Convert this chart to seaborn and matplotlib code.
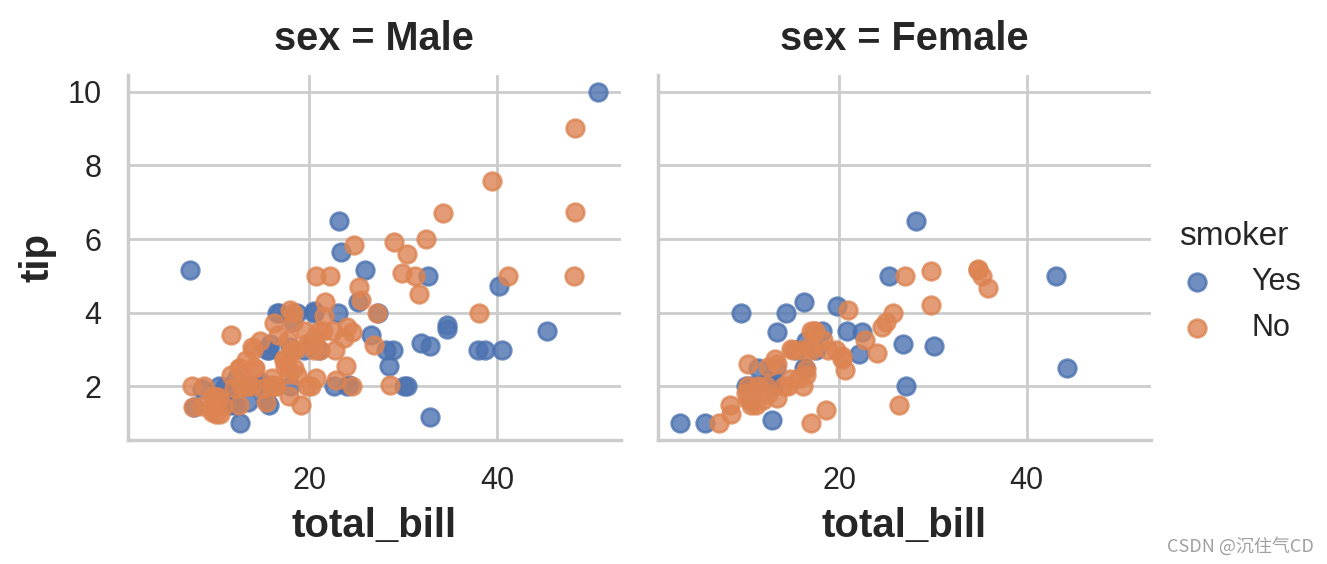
import pandas as pd
import matplotlib
matplotlib.use("Agg")
import matplotlib.pyplot as plt
import seaborn as sns

# tips data, split by sex and smoker
male_no_bill = [10.34, 21.01, 23.68, 25.29, 8.77, 26.88, 15.04, 14.78, 10.27, 15.42,
                18.43, 21.58, 16.29, 20.65, 17.92, 39.42, 19.82, 17.81, 13.37, 12.69,
                21.7, 9.55, 18.35, 17.78, 24.06, 16.31, 18.69, 31.27, 16.04, 17.46,
                13.94, 9.68, 30.4, 18.29, 22.23, 32.4, 28.55, 18.04, 12.54, 9.94,
                25.56, 19.49, 48.27, 17.59, 20.08, 20.23, 12.02, 10.51, 27.2, 22.76,
                17.29, 16.66, 15.98, 13.03, 18.28, 24.71, 21.16, 22.49, 12.46, 18.24,
                14.0, 38.07, 23.95, 29.93, 11.69, 14.26, 15.95, 8.52, 22.82, 19.08,
                34.3, 41.19, 9.78, 7.51, 14.07, 13.13, 17.26, 24.55, 19.77, 48.17,
                16.49, 21.5, 12.66, 13.81, 24.52, 20.76, 31.71, 20.69, 7.56, 48.33,
                20.45, 13.28, 11.61, 10.77, 10.07, 29.03, 17.82]
male_no_tip = [1.66, 3.5, 3.31, 4.71, 2.0, 3.12, 1.96, 3.23, 1.71, 1.57,
               3.0, 3.92, 3.71, 3.35, 4.08, 7.58, 3.18, 2.34, 2.0, 2.0,
               4.3, 1.45, 2.5, 3.27, 3.6, 2.0, 2.31, 5.0, 2.24, 2.54,
               3.06, 1.32, 5.6, 3.0, 5.0, 6.0, 2.05, 3.0, 2.5, 1.56,
               4.34, 3.51, 6.73, 2.64, 3.15, 2.01, 1.97, 1.25, 4.0, 3.0,
               2.71, 3.4, 2.03, 2.0, 4.0, 5.85, 3.0, 3.5, 1.5, 3.76,
               3.0, 4.0, 2.55, 5.07, 2.31, 2.5, 2.0, 1.48, 2.18, 1.5,
               6.7, 5.0, 1.73, 2.0, 2.5, 2.0, 2.74, 2.0, 2.0, 5.0,
               2.0, 3.5, 2.5, 2.0, 3.48, 2.24, 4.5, 5.0, 1.44, 9.0,
               3.0, 2.72, 3.39, 1.47, 1.25, 5.92, 1.75]

male_yes_bill = [38.01, 11.24, 20.29, 13.81, 11.02, 18.29, 15.01, 17.92, 19.44, 32.68,
                 28.97, 40.17, 27.28, 12.03, 21.01, 15.36, 20.49, 25.21, 16.0, 50.81,
                 15.81, 7.25, 31.85, 16.82, 32.9, 17.89, 14.48, 34.63, 34.65, 23.33,
                 45.35, 23.17, 40.55, 30.46, 23.1, 15.69, 28.44, 15.48, 16.58, 10.34,
                 13.51, 18.71, 20.53, 26.59, 38.73, 24.27, 30.06, 25.89, 28.15, 11.59,
                 7.74, 12.16, 8.58, 13.42, 24.01, 15.69, 15.53, 12.6, 32.83, 22.67]
male_yes_tip = [3.0, 1.76, 3.21, 2.0, 1.98, 3.76, 2.09, 3.08, 3.0, 5.0,
                3.0, 4.73, 4.0, 1.5, 3.0, 1.64, 4.06, 4.29, 2.0, 10.0,
                3.16, 5.15, 3.18, 4.0, 3.11, 2.0, 2.0, 3.55, 3.68, 5.65,
                3.5, 6.5, 3.0, 2.0, 4.0, 1.5, 2.56, 2.02, 4.0, 2.0,
                2.0, 4.0, 4.0, 3.41, 3.0, 2.03, 2.0, 5.16, 3.0, 1.5,
                1.44, 2.2, 1.92, 1.58, 2.0, 3.0, 3.0, 1.0, 1.17, 2.0]

female_no_bill = [16.99, 24.59, 35.26, 14.83, 10.33, 16.97, 20.29, 15.77, 19.65, 15.06,
                  20.69, 16.93, 10.29, 34.81, 26.41, 16.45, 17.07, 14.73, 10.07, 34.83,
                  22.75, 20.92, 7.25, 25.71, 17.31, 10.65, 12.43, 24.08, 13.42, 12.48,
                  29.8, 14.52, 11.38, 20.27, 11.17, 12.26, 18.26, 8.51, 10.33, 14.15,
                  13.16, 17.47, 27.05, 16.43, 8.35, 18.64, 11.87, 29.85, 25.0, 13.39,
                  16.21, 15.98, 35.83, 18.78]
female_no_tip = [1.01, 3.61, 5.0, 3.02, 1.67, 3.5, 2.75, 2.23, 3.0, 3.0,
                 2.45, 3.07, 2.6, 5.2, 1.5, 2.47, 3.0, 2.2, 1.83, 5.17,
                 3.25, 4.08, 1.0, 4.0, 3.5, 1.5, 1.8, 2.92, 1.68, 2.52,
                 4.2, 2.0, 2.0, 2.83, 1.5, 2.0, 3.25, 1.25, 2.0, 2.0,
                 2.75, 3.5, 5.0, 2.3, 1.5, 1.36, 1.63, 5.14, 3.75, 2.61,
                 2.0, 3.0, 4.67, 3.0]

female_yes_bill = [3.07, 26.86, 25.28, 5.75, 16.32, 11.35, 15.38, 44.3, 22.42, 14.31,
                   17.51, 10.59, 10.63, 9.6, 20.9, 18.15, 19.81, 43.11, 13.0, 12.74,
                   13.0, 16.4, 16.47, 12.76, 13.27, 28.17, 12.9, 30.14, 13.42, 16.27,
                   10.09, 22.12, 27.18]
female_yes_tip = [1.0, 3.14, 5.0, 1.0, 4.3, 2.5, 3.0, 2.5, 3.48, 4.0,
                  3.0, 1.61, 2.0, 4.0, 3.5, 3.5, 4.19, 5.0, 2.0, 2.01,
                  2.0, 2.5, 3.23, 2.23, 2.5, 6.5, 1.1, 3.09, 3.48, 2.5,
                  2.0, 2.88, 2.0]

x_ticks = [20, 40]


def group(bill, tip, sex, smoker):
    return pd.DataFrame({"total_bill": bill, "tip": tip, "sex": sex, "smoker": smoker})


tips = pd.concat([
    group(male_no_bill, male_no_tip, "Male", "No"),
    group(male_yes_bill, male_yes_tip, "Male", "Yes"),
    group(female_no_bill, female_no_tip, "Female", "No"),
    group(female_yes_bill, female_yes_tip, "Female", "Yes"),
], ignore_index=True)

sns.set_theme(style="whitegrid", context="notebook")
plt.rcParams["font.family"] = ["Liberation Sans", "DejaVu Sans"]

g = sns.lmplot(data=tips, x="total_bill", y="tip", col="sex", hue="smoker",
               col_order=["Male", "Female"], hue_order=["Yes", "No"],
               fit_reg=False, legend=False, height=2.8, aspect=1,
               scatter_kws={"s": 40})

fig = g.figure
fig.set_size_inches(13.27 / 2, 5.64 / 2)
fig.subplots_adjust(left=0.0965, right=0.867, bottom=0.22, top=0.867, wspace=0.075)

# bold facet titles and axis labels
g.set_titles("{col_var} = {col_name}", size=14.3, fontweight="bold", pad=9)
g.set_axis_labels("total_bill", "tip", fontsize=14.5, fontweight="bold")
for ax in g.axes.flat:
    ax.set_xticks(x_ticks)

handles, labels = g.axes[0, 0].get_legend_handles_labels()
fig.legend(handles, labels, title="smoker", loc="center left",
           bbox_to_anchor=(0.858, 0.5), frameon=False,
           fontsize=11, title_fontsize=12)

fig.text(0.99, 0.032, "CSDN @沉住气CD", ha="right", va="center", fontsize=6.5,
         color="#a0a0a0", family=["Noto Sans CJK SC", "DejaVu Sans"])

fig.savefig("out.png", dpi=200)
